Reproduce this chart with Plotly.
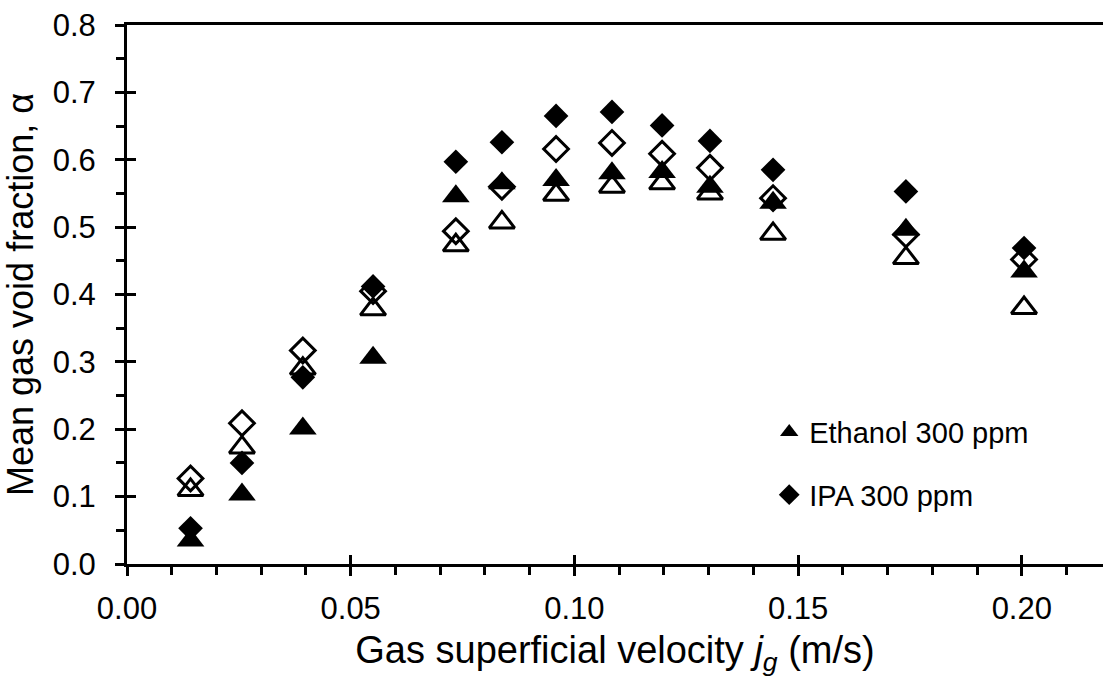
import plotly.graph_objects as go

# Gas superficial velocity (m/s)
jg = [0.0142, 0.0257, 0.0393, 0.0550, 0.0735, 0.0838, 0.0959, 0.1084,
      0.1196, 0.1303, 0.1444, 0.1741, 0.2005]

# Mean gas void fraction
ethanol_300 = [0.035, 0.103, 0.201, 0.306, 0.546, 0.565, 0.570, 0.580,
               0.582, 0.560, 0.536, 0.496, 0.434]
ipa_300 = [0.053, 0.150, 0.277, 0.412, 0.597, 0.626, 0.665, 0.671,
           0.651, 0.628, 0.585, 0.553, 0.469]
open_triangle = [0.110, 0.173, 0.290, 0.378, 0.473, 0.507, 0.548, 0.560,
                 0.565, 0.550, 0.490, 0.454, 0.380]
open_diamond = [0.127, 0.209, 0.317, 0.405, 0.494, 0.560, 0.616, 0.625,
                0.609, 0.588, 0.543, 0.489, 0.452]

x_ticks = [0.00, 0.05, 0.10, 0.15, 0.20]
x_ticklabels = ["0.00", "0.05", "0.10", "0.15", "0.20"]
y_ticks = [0.0, 0.1, 0.2, 0.3, 0.4, 0.5, 0.6, 0.7, 0.8]
y_ticklabels = ["0.0", "0.1", "0.2", "0.3", "0.4", "0.5", "0.6", "0.7", "0.8"]

FONT = "Liberation Sans, Arial, sans-serif"
W, H = 1103, 679
ML, MT, MB = 127, 25, 115
X_MAX = (W - ML) / 4474.0

fig = go.Figure()

fig.add_trace(go.Scatter(
    x=jg, y=open_diamond, mode="markers", showlegend=False,
    marker=dict(symbol="diamond-open", size=19, color="black",
                line=dict(width=3, color="black"))))
fig.add_trace(go.Scatter(
    x=jg, y=open_triangle, mode="markers", showlegend=False,
    marker=dict(symbol="triangle-up-open", size=22, color="black",
                line=dict(width=3, color="black"))))
fig.add_trace(go.Scatter(
    x=jg, y=ethanol_300, mode="markers", name="Ethanol 300 ppm",
    legendgroup="eth",
    marker=dict(symbol="triangle-up", size=24, color="black",
                line=dict(width=0))))
fig.add_trace(go.Scatter(
    x=jg, y=ipa_300, mode="markers", name="IPA 300 ppm",
    legendgroup="ipa",
    marker=dict(symbol="diamond", size=19, color="black",
                line=dict(width=0))))

# invisible trace to host inside-tick overlay axes
fig.add_trace(go.Scatter(x=[None], y=[None], xaxis="x2", yaxis="y2",
                         showlegend=False, hoverinfo="skip"))

fig.update_layout(
    width=W, height=H,
    margin=dict(l=ML, r=0, t=MT, b=MB),
    paper_bgcolor="white", plot_bgcolor="white",
    font=dict(family=FONT, size=31, color="black"),
    showlegend=True,
    legend=dict(x=0.658, y=0.292, xanchor="left", yanchor="top",
                bgcolor="rgba(0,0,0,0)", traceorder="grouped",
                tracegroupgap=22, font=dict(size=29),
                itemsizing="trace", itemwidth=30),
    xaxis=dict(
        range=[0, X_MAX], tickvals=x_ticks, ticktext=x_ticklabels,
        showgrid=False, zeroline=False,
        showline=True, linecolor="black", linewidth=3, mirror=True,
        ticks="outside", ticklen=9, tickwidth=2.5, tickcolor="black",
        ticklabelstandoff=6,
        minor=dict(dtick=0.01, tick0=0, ticks="outside", ticklen=8,
                   tickwidth=2.5, tickcolor="black", showgrid=False),
        title=dict(text="Gas superficial velocity <i>j<sub>g</sub></i> (m/s)",
                   font=dict(size=38), standoff=12),
        automargin=False),
    yaxis=dict(
        range=[0, 0.8], tickvals=y_ticks, ticktext=y_ticklabels,
        showgrid=False, zeroline=False,
        showline=True, linecolor="black", linewidth=3,
        ticks="outside", ticklen=9, tickwidth=2.5, tickcolor="black",
        ticklabelstandoff=13,
        minor=dict(dtick=0.05, tick0=0, ticks="outside", ticklen=8,
                   tickwidth=2.5, tickcolor="black", showgrid=False),
        title=dict(text="Mean gas void fraction, α",
                   font=dict(size=36), standoff=10),
        automargin=False),
    xaxis2=dict(overlaying="x", matches="x", range=[0, X_MAX],
                tickvals=x_ticks, showticklabels=False, ticks="inside",
                ticklen=9, tickwidth=2.5, tickcolor="black",
                showgrid=False, zeroline=False, showline=False,
                side="bottom", anchor="y2"),
    yaxis2=dict(overlaying="y", range=[0, 0.8], tickvals=y_ticks,
                showticklabels=False, ticks="inside", ticklen=9,
                tickwidth=2.5, tickcolor="black", showgrid=False,
                zeroline=False, showline=False, side="left", anchor="x2"),
)

fig.write_html("out.html")
